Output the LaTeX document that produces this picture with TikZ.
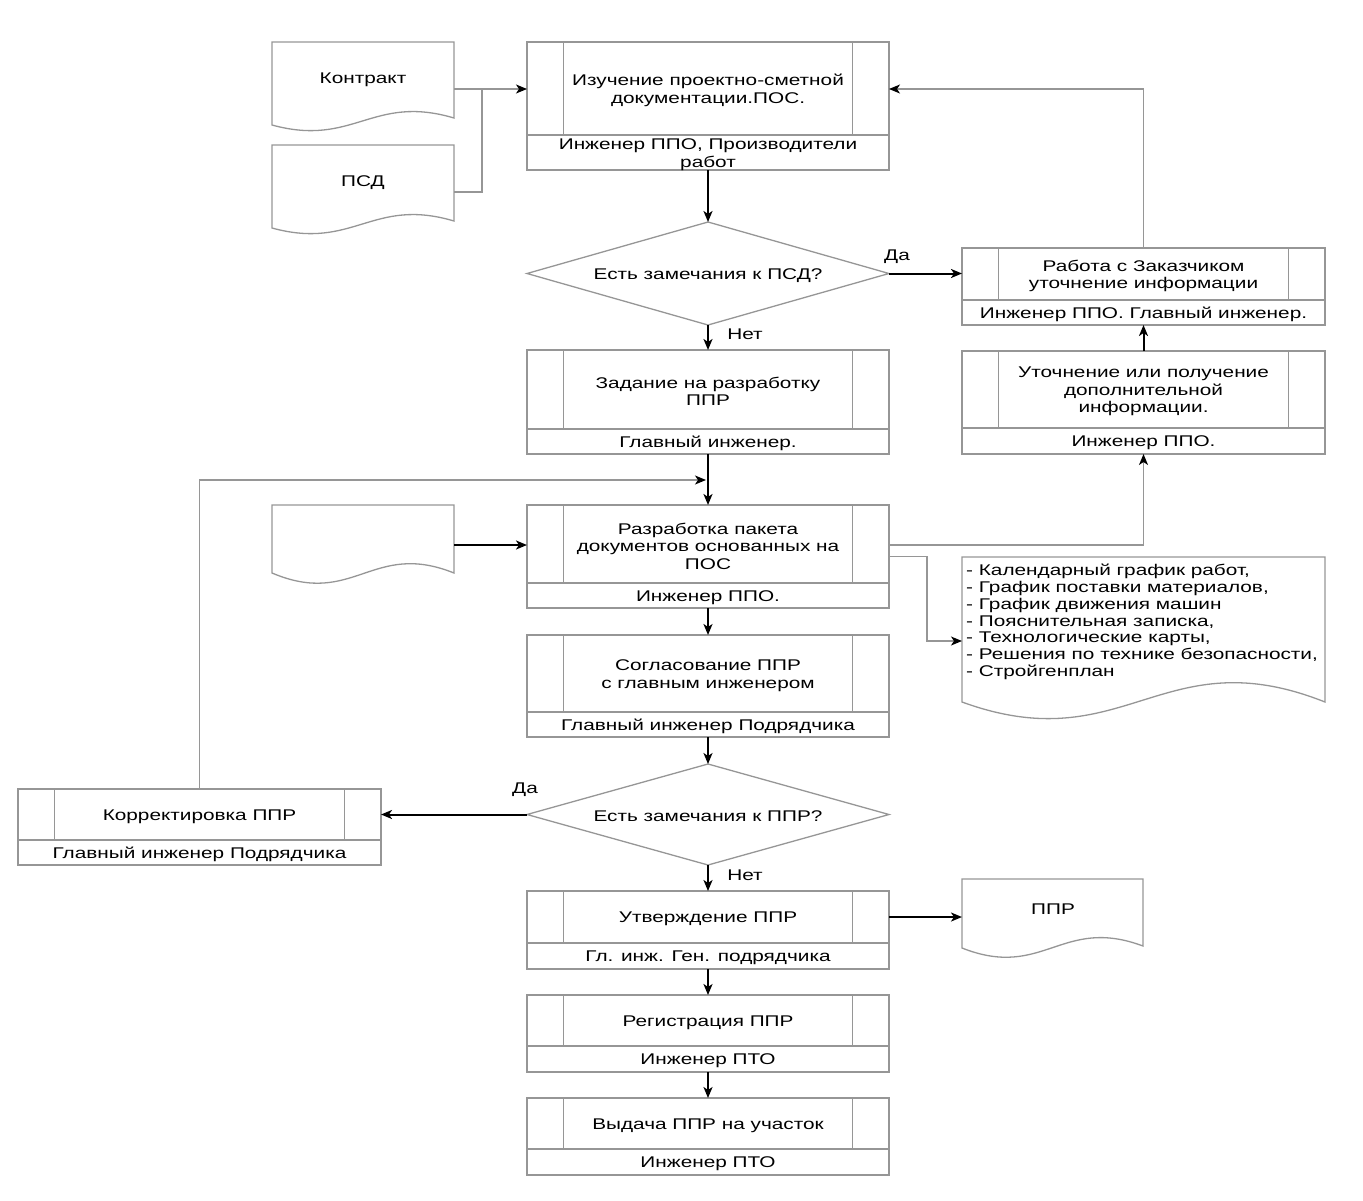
\documentclass[tikz,border=0pt]{standalone}
\usepackage{fontspec}
\setmainfont{Liberation Sans}[FakeStretch=1.34]
\usetikzlibrary{shapes.geometric,arrows.meta}
\definecolor{linegray}{RGB}{150,150,150}
\tikzset{
  gline/.style={draw=linegray, line width=1.3pt},
  flow/.style={draw=black, line width=2pt, -{Stealth[length=11pt,width=9pt,inset=3pt]}},
  gflow/.style={draw=linegray, line width=1.3pt, -{Stealth[black,fill=black,length=11pt,width=9pt,inset=3pt]}},
  pbox/.style={draw=linegray, line width=1.3pt, rectangle, inner sep=0pt, outer sep=0pt},
  txt/.style={font=\fontsize{15.5}{17.5}\selectfont, align=center, inner sep=0pt, yshift=-2pt},
  lbl/.style={font=\fontsize{15.5}{17.5}\selectfont, inner sep=0pt, yshift=-2pt},
  dia/.style={draw=linegray, line width=1.3pt, diamond, inner sep=0pt, outer sep=0pt},
}
% #1 name, #2 x1, #3 x2, #4 top, #5 split, #6 bottom, #7 top text, #8 bottom text
\newcommand\procbox[8]{%
  \node[pbox, minimum width={#3-#2}, minimum height={#6-#4}] (#1) at ({(#2+#3)/2},{(#4+#6)/2}) {};
  \draw[gline] (#2,#5) -- (#3,#5);
  \draw[gline] ({#2+36.5},#4) -- ({#2+36.5},#5);
  \draw[gline] ({#3-36.5},#4) -- ({#3-36.5},#5);
  \node[txt] (#1-t) at ({(#2+#3)/2},{(#4+#5)/2}) {#7};
  \node[txt] (#1-b) at ({(#2+#3)/2},{(#5+#6)/2}) {#8};
}
% #1 x1, #2 x2, #3 top, #4 bottom-left y, #5 end rise, #6 a1, #7 a2
\newcommand\docshape[7]{%
  \draw[gline] (#1,#4) -- (#1,#3) -- (#2,#3) -- (#2,{#4-#5})
    .. controls ({#1+0.55*(#2-#1)},{#4-#7}) and ({#1+0.45*(#2-#1)},{#4+#6}) .. (#1,#4) -- cycle;
}
\begin{document}
\begin{tikzpicture}[x=1pt,y=-1pt]
\useasboundingbox (0,0) rectangle (1363,1200);

% documents
\docshape{272}{454}{42}{125}{7}{22.5}{31.3}
\node[txt] (contract) at (363,78) {Контракт};
\coordinate (contract-e) at (454,89);
\docshape{272}{454}{145}{228}{7}{22.5}{31.3}
\node[txt] (psd) at (363,181) {ПСД};
\coordinate (psd-e) at (454,192);
\coordinate (j1) at (482,89);

\docshape{272}{454}{505}{573}{0}{34.7}{32.9}
\coordinate (blank-e) at (454,545);

\docshape{962}{1325}{557}{702}{0}{59.5}{64.9}
\node[lbl, align=left, anchor=north west, font=\fontsize{15.5}{16.8}\selectfont] (list) at (966,562) {%
- Календарный график работ,\\
- График поставки материалов,\\
- График движения машин\\
- Пояснительная записка,\\
- Технологические карты,\\
- Решения по технике безопасности,\\
- Стройгенплан};
\coordinate (list-w) at (962,641);
\coordinate (k1) at (927,641);

\docshape{962}{1143}{879}{948}{2}{32.2}{32.5}
\node[txt] (ppr) at (1053,907) {ППР};
\coordinate (ppr-w) at (962,917);

% process boxes
\procbox{box1}{527}{889}{42}{135}{170}{Изучение проектно-сметной\\документации.ПОС.}{Инженер ППО, Производители\\работ}
\procbox{zad}{527}{889}{350}{429}{454}{Задание на разработку\\ППР}{Главный инженер.}
\procbox{work}{962}{1325}{248}{300}{325}{Работа с Заказчиком\\уточнение информации}{Инженер ППО. Главный инженер.}
\procbox{clar}{962}{1325}{351}{428}{454}{Уточнение или получение\\дополнительной\\информации.}{Инженер ППО.}
\procbox{razr}{527}{889}{505}{583}{608}{Разработка пакета\\документов основанных на\\ПОС}{Инженер ППО.}
\procbox{sogl}{527}{889}{635}{712}{737}{Согласование ППР\\с главным инженером}{Главный инженер Подрядчика}
\procbox{korr}{18}{381}{789}{840}{865}{Корректировка ППР}{Главный инженер Подрядчика}
\procbox{utv}{527}{889}{891}{943}{969}{Утверждение ППР}{Гл. инж. Ген. подрядчика}
\procbox{reg}{527}{889}{995}{1046}{1072}{Регистрация ППР}{Инженер ПТО}
\procbox{vyd}{527}{889}{1098}{1149}{1175}{Выдача ППР на участок}{Инженер ПТО}

% decisions
\node[dia, minimum width=362, minimum height=103] (d1) at (708,273.5) {};
\node[txt] (d1-t) at (708,273.5) {Есть замечания к ПСД?};
\node[dia, minimum width=362, minimum height=101] (d2) at (708,814.5) {};
\node[txt] (d2-t) at (708,814.5) {Есть замечания к ППР?};

% labels
\node[lbl] (yes1) at (897,255) {Да};
\node[lbl] (no1) at (745,332) {Нет};
\node[lbl] (yes2) at (525,788) {Да};
\node[lbl] (no2) at (745,873) {Нет};

\coordinate (fb) at (706,480);

% connectors
\draw[gline] (psd-e) -| (j1);
\draw[gflow] (contract-e) -- (box1.west |- contract-e);
\draw[flow] (box1.south) -- (d1.north);
\draw[flow] (d1.east) -- (d1.east -| work.west);
\draw[gflow] (work.north) |- (box1.east |- j1);
\draw[flow] (d1.south) -- (zad.north);
\draw[flow] (clar.north) -- (work.south);
\draw[flow] (zad.south) -- (razr.north);
\draw[gflow] (korr.north) |- (fb);
\draw[flow] (blank-e) -- (blank-e -| razr.west);
\draw[gflow] (razr.east |- blank-e) -| (clar.south);
\draw[gflow] (razr.east) -| (k1) -- (list-w);
\draw[flow] (razr.south) -- (sogl.north);
\draw[flow] (sogl.south) -- (d2.north);
\draw[flow] (d2.west) -- (d2.west -| korr.east);
\draw[flow] (d2.south) -- (utv.north);
\draw[flow] (utv.east |- ppr-w) -- (ppr-w);
\draw[flow] (utv.south) -- (reg.north);
\draw[flow] (reg.south) -- (vyd.north);
\end{tikzpicture}
\end{document}
